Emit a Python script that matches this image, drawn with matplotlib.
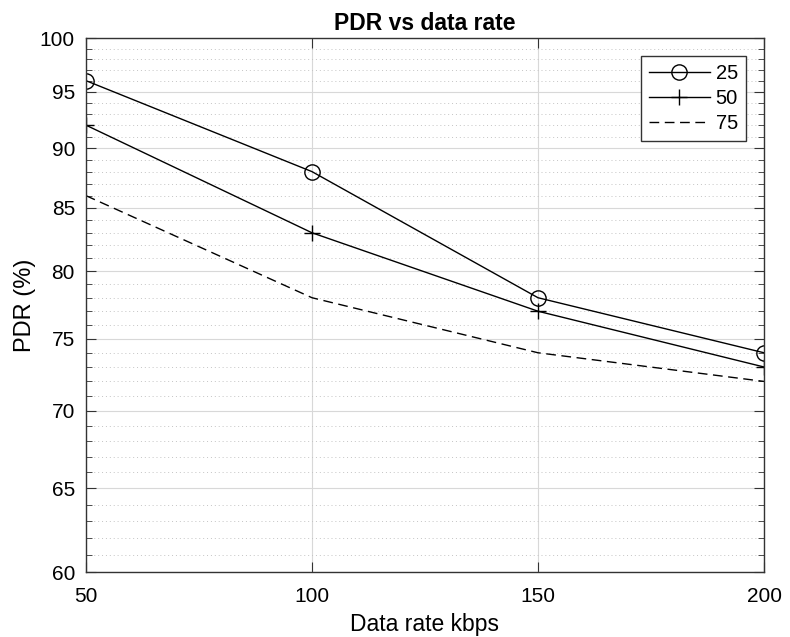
import numpy as np
import matplotlib
matplotlib.use('Agg')
import matplotlib.pyplot as plt
from matplotlib.ticker import FixedLocator, NullFormatter

plt.rcParams['font.family'] = ['Liberation Sans', 'DejaVu Sans']

# data
data_rate = [50, 100, 150, 200]
pdr_25 = [96, 88, 78, 74]
pdr_50 = [92, 83, 77, 73]
pdr_75 = [86, 78, 74, 72]
y_ticks = [60, 65, 70, 75, 80, 85, 90, 95, 100]
x_ticks = [50, 100, 150, 200]

fig = plt.figure(figsize=(7.9, 6.37), dpi=100)
ax = fig.add_axes([86/790, 1 - 572/637, (764-86)/790, (572-38)/637])

ax.plot(data_rate, pdr_25, color='black', lw=1, marker='o', ms=11, mfc='none', mew=1, label='25')
ax.plot(data_rate, pdr_50, color='black', lw=1, marker='+', ms=12, mew=1, label='50')
ax.plot(data_rate, pdr_75, color='black', lw=1, ls=(0, (7, 4)), label='75')

ax.set_yscale('log')
ax.set_xlim(50, 200)
ax.set_ylim(60, 100)
ax.xaxis.set_major_locator(FixedLocator(x_ticks))
ax.set_xticklabels([str(v) for v in x_ticks])
ax.yaxis.set_major_locator(FixedLocator(y_ticks))
ax.set_yticklabels([str(v) for v in y_ticks])
minor = [v for v in range(61, 100) if v % 5 != 0]
ax.yaxis.set_minor_locator(FixedLocator(minor))
ax.yaxis.set_minor_formatter(NullFormatter())

ax.grid(True, which='major', color='#d8d8d8', lw=0.8)
ax.grid(True, which='minor', axis='y', color='#c4c4c4', lw=0.7, ls=(0, (1, 3)))
ax.set_axisbelow(True)

ax.tick_params(which='both', direction='in', top=True, right=True, labelsize=15, color='#333333')
ax.tick_params(axis='x', which='major', length=7, pad=11)
ax.tick_params(axis='y', which='major', length=7, pad=8)
ax.tick_params(which='minor', length=4)
for s in ax.spines.values():
    s.set_color('#333333')
    s.set_linewidth(1)

ax.set_title('PDR vs data rate', fontsize=16.5, fontweight='bold', pad=6)
ax.set_xlabel('Data rate kbps', fontsize=16.5, labelpad=5)
ax.set_ylabel('PDR (%)', fontsize=17, labelpad=3)

leg = ax.legend(loc='upper right', fontsize=14.5, fancybox=False, framealpha=1,
                edgecolor='#333333', handlelength=3.0, borderpad=0.4,
                handletextpad=0.3, labelspacing=0.3, borderaxespad=0.9)
leg.get_frame().set_linewidth(1)

fig.savefig('out.png', dpi=100)
